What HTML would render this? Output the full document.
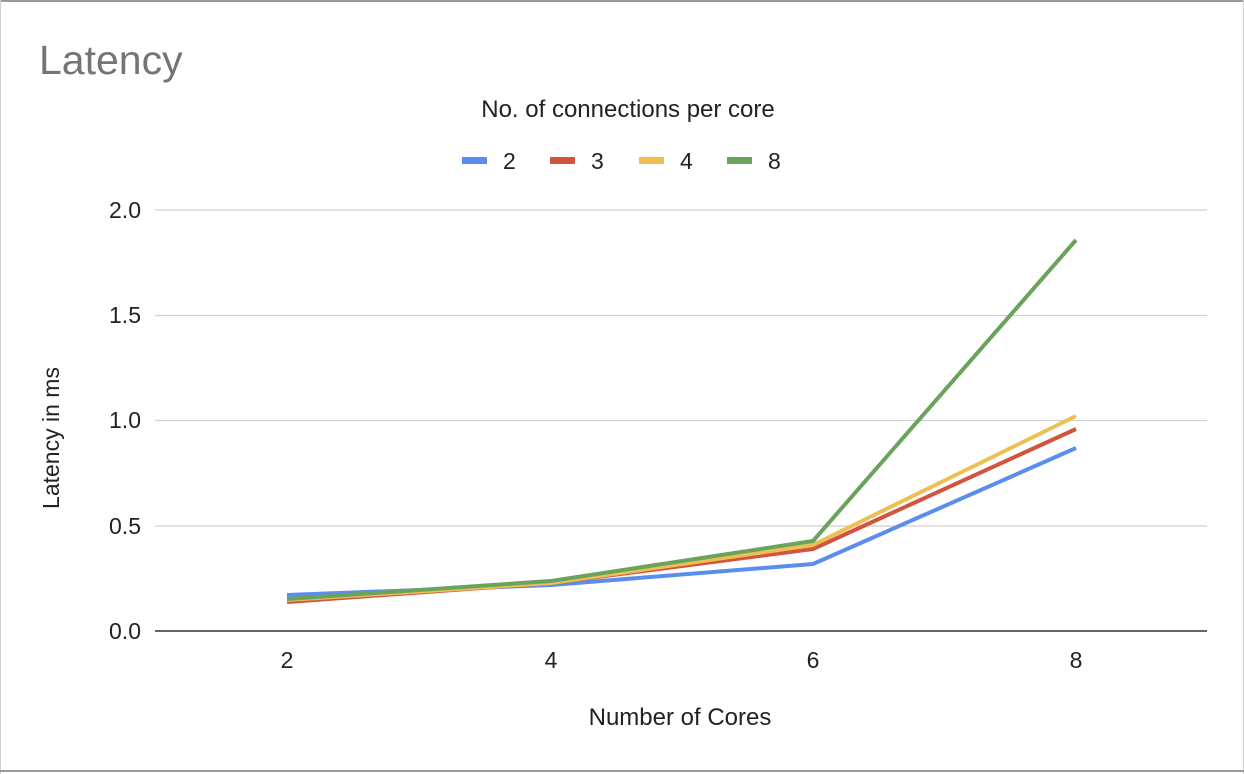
<!DOCTYPE html>
<html><head><meta charset="utf-8"><style>
html,body{margin:0;padding:0;background:#fff;}
body{width:1244px;height:774px;overflow:hidden;}
svg{display:block;font-family:"Liberation Sans",Arial,sans-serif;}
</style></head><body>
<svg width="1244" height="774" viewBox="0 0 1244 774">
<rect x="0" y="0" width="1244" height="774" fill="#fff"/>
<rect x="0" y="0" width="1244" height="2" fill="#9a9a9a"/>
<rect x="0" y="0" width="1" height="774" fill="#cfcfcf"/>
<rect x="1243" y="0" width="1" height="774" fill="#cfcfcf"/>
<rect x="0" y="770" width="1244" height="2" fill="#9a9a9a"/>
<text x="39" y="74" font-size="41" fill="#757575">Latency</text>
<text x="628" y="117" font-size="24" fill="#222" text-anchor="middle">No. of connections per core</text>
<g font-size="23" fill="#222">
<rect x="462" y="157" width="25" height="7" fill="#5b8def"/><text x="503" y="169">2</text>
<rect x="550" y="157" width="25" height="7" fill="#d2533f"/><text x="591" y="169">3</text>
<rect x="639" y="157" width="25" height="7" fill="#eebf53"/><text x="680" y="169">4</text>
<rect x="727" y="157" width="25" height="7" fill="#69a35c"/><text x="768" y="169">8</text>
</g>
<g stroke="#d0d0d0" stroke-width="1.2">
<line x1="155" y1="210" x2="1207" y2="210"/>
<line x1="155" y1="315.5" x2="1207" y2="315.5"/>
<line x1="155" y1="420.5" x2="1207" y2="420.5"/>
<line x1="155" y1="526" x2="1207" y2="526"/>
</g>
<line x1="155" y1="631" x2="1207" y2="631" stroke="#333" stroke-width="1.5"/>
<g font-size="23" fill="#222" text-anchor="end">
<text x="141" y="218">2.0</text>
<text x="141" y="323">1.5</text>
<text x="141" y="428">1.0</text>
<text x="141" y="534">0.5</text>
<text x="141" y="639">0.0</text>
</g>
<g font-size="23" fill="#222" text-anchor="middle">
<text x="287" y="668">2</text><text x="551" y="668">4</text><text x="813" y="668">6</text><text x="1076" y="668">8</text>
</g>
<text x="680" y="725" font-size="24" fill="#222" text-anchor="middle">Number of Cores</text>
<text transform="translate(59,438) rotate(-90)" font-size="23" fill="#222" text-anchor="middle">Latency in ms</text>
<g fill="none" stroke-width="4" stroke-linejoin="round">
<polyline stroke="#5b8def" points="287,595 551,585 813,564 1076,448"/>
<polyline stroke="#d2533f" points="287,602 551,583 813,549 1076,429"/>
<polyline stroke="#eebf53" points="287,600 551,583 813,545 1076,416"/>
<polyline stroke="#69a35c" points="287,599 551,581 813,541 1076,240"/>
</g>
</svg>
</body></html>
